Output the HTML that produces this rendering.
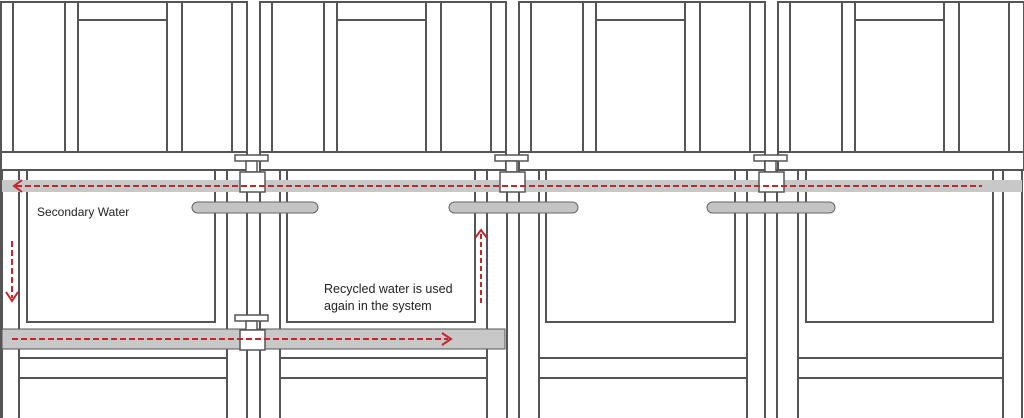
<!DOCTYPE html>
<html><head><meta charset="utf-8"><style>
html,body{margin:0;padding:0;background:#fff;width:1024px;height:418px;overflow:hidden}
svg{display:block}
text{font-family:"Liberation Sans",sans-serif;fill:#222}
</style></head><body>
<svg width="1024" height="418" viewBox="0 0 1024 418" xmlns="http://www.w3.org/2000/svg">
<g fill="none" stroke="#555" stroke-width="2">
<g id="um">
<rect x="1" y="2" width="246" height="150"/>
<line x1="13" y1="2" x2="13" y2="152"/>
<line x1="65" y1="2" x2="65" y2="152"/>
<line x1="78" y1="2" x2="78" y2="152"/>
<line x1="78" y1="20" x2="167" y2="20"/>
<line x1="167" y1="2" x2="167" y2="152"/>
<line x1="182" y1="2" x2="182" y2="152"/>
<line x1="232" y1="2" x2="232" y2="152"/>
<line x1="1" y1="170" x2="247" y2="170"/>
<line x1="247" y1="152" x2="247" y2="170"/>
<line x1="1" y1="152" x2="1" y2="170"/>
</g>
<use href="#um" x="259"/>
<use href="#um" x="518"/>
<use href="#um" x="777"/>
<line x1="1" y1="152" x2="1" y2="418"/>
<rect x="2" y="170" width="17" height="250"/>
<polyline points="27,170 27,322 215,322 215,170"/>
<rect x="227" y="170" width="20" height="250"/>
<line x1="19" y1="358" x2="227" y2="358"/>
<line x1="19" y1="378" x2="227" y2="378"/>
<rect x="260" y="170" width="20" height="250"/>
<polyline points="287,170 287,322 475,322 475,170"/>
<rect x="487" y="170" width="20" height="250"/>
<line x1="280" y1="358" x2="487" y2="358"/>
<line x1="280" y1="378" x2="487" y2="378"/>
<rect x="519" y="170" width="20" height="250"/>
<polyline points="546,170 546,322 735,322 735,170"/>
<rect x="747" y="170" width="18" height="250"/>
<line x1="539" y1="358" x2="747" y2="358"/>
<line x1="539" y1="378" x2="747" y2="378"/>
<rect x="777" y="170" width="21" height="250"/>
<polyline points="806,170 806,322 993,322 993,170"/>
<rect x="1003" y="170" width="19" height="250"/>
<line x1="798" y1="358" x2="1003" y2="358"/>
<line x1="798" y1="378" x2="1003" y2="378"/>
</g>
<rect x="2" y="180" width="1020" height="12" fill="#c8c8c8"/>
<g fill="#c4c4c4" stroke="#666" stroke-width="1">
<rect x="192" y="202" width="126" height="11" rx="5.5"/>
<rect x="449" y="202" width="129" height="11" rx="5.5"/>
<rect x="707" y="202" width="128" height="11" rx="5.5"/>
</g>
<rect x="2" y="329" width="503" height="20" fill="#c8c8c8" stroke="#555" stroke-width="1"/>
<g id="v" fill="#fff" stroke="#555" stroke-width="1.5">
<rect x="235" y="155" width="33" height="6"/>
<rect x="246" y="161" width="11" height="11"/>
<rect x="240" y="172" width="25" height="20"/>
</g>
<use href="#v" x="260"/>
<use href="#v" x="519"/>
<g fill="#fff" stroke="#555" stroke-width="1.5">
<rect x="235" y="315" width="33" height="6"/>
<rect x="246" y="321" width="11" height="9"/>
<rect x="240" y="330" width="25" height="20"/>
</g>
<g stroke="#c1272d" stroke-width="2" fill="none">
<line x1="16" y1="186" x2="982" y2="186" stroke-dasharray="6 3"/>
<polyline points="22,180 14,186 22,192"/>
<line x1="12" y1="241" x2="12" y2="298" stroke-dasharray="6 3"/>
<polyline points="6,292 12,301 18,292"/>
<line x1="12" y1="339" x2="448" y2="339" stroke-dasharray="6 3"/>
<polyline points="442,333 451,339 442,345"/>
<line x1="481" y1="303" x2="481" y2="232" stroke-dasharray="5 3"/>
<polyline points="475,238 481,230 487,238"/>
</g>
<text x="37" y="216" font-size="12">Secondary Water</text>
<text x="324" y="293" font-size="12.5">Recycled water is used</text>
<text x="324" y="310" font-size="12.5">again in the system</text>
</svg>
</body></html>
